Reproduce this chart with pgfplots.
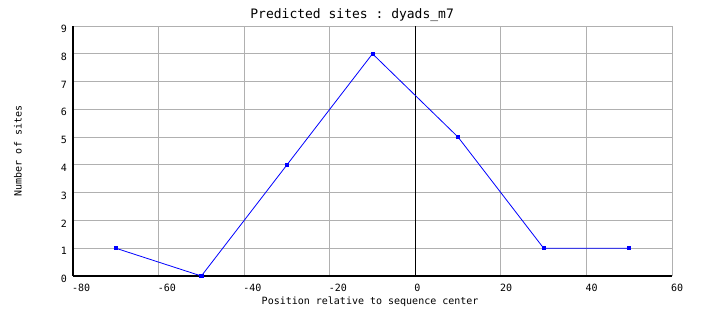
\documentclass[border=0pt]{standalone}
\usepackage{fontspec}
\setmonofont{DejaVu Sans Mono}
\usepackage{pgfplots}
\pgfplotsset{compat=1.18}
\definecolor{gridgray}{RGB}{176,176,176}
\begin{document}
\begin{tikzpicture}
\useasboundingbox (-73pt,-52pt) rectangle (631pt,276pt);
\begin{axis}[
  at={(0pt,0pt)}, anchor=south west,
  scale only axis, width=599pt, height=250pt,
  xmin=-80, xmax=60, ymin=0, ymax=9,
  xtick={-80,-60,...,60}, ytick={0,1,...,9},
  grid=major, grid style={gridgray, line width=0.8pt},
  axis x line=bottom, axis y line=left,
  axis line style={black, -, line width=1.3pt},
  major tick length=0pt,
  /pgf/number format/assume math mode=true,
  tick label style={font=\fontsize{10}{12}\ttfamily},
  xticklabel style={anchor=north west, inner sep=0pt, yshift=-8pt, xshift=-1pt},
  yticklabel style={anchor=east, inner sep=0pt, xshift=-6pt, yshift=-3pt},
  title={Predicted sites : dyads\_m7},
  title style={at={(axis description cs:0.466,1)}, anchor=base, inner sep=0pt, yshift=1pt, font=\fontsize{13}{15}\ttfamily},
  xlabel={Position relative to sequence center},
  xlabel style={at={(axis description cs:0.496,-0.104)}, anchor=center, font=\fontsize{10}{12}\ttfamily},
  ylabel={Number of sites},
  ylabel style={at={(axis description cs:-0.092,0.5)}, anchor=center, font=\fontsize{10}{12}\ttfamily},
  clip=false,
]
\addplot[black, line width=1pt, forget plot] coordinates {(0,0) (0,9)};
\addplot[blue, line width=0.8pt, mark=square*, mark size=1.6pt, mark options={solid, fill=blue, draw=blue}]
  coordinates {(-70,1) (-50,0) (-30,4) (-10,8) (10,5) (30,1) (50,1)};
\end{axis}
\end{tikzpicture}
\end{document}
